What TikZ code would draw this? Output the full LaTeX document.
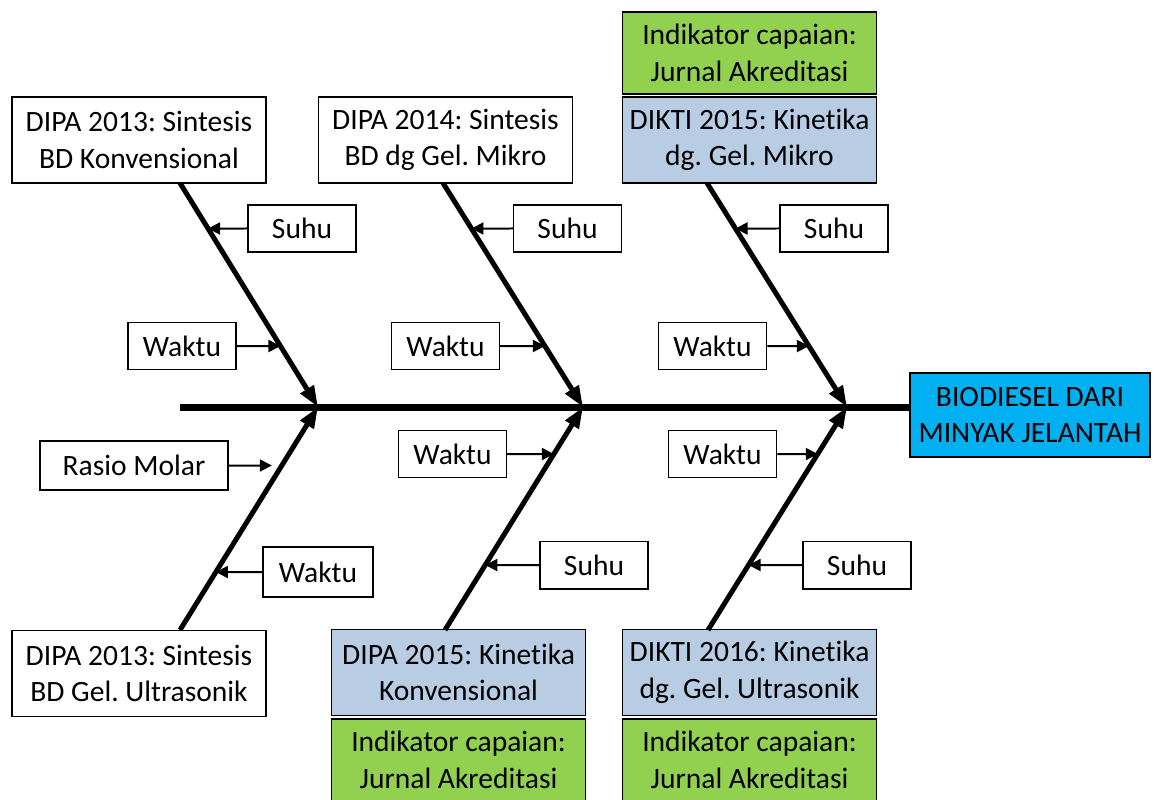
\documentclass[tikz,border=0pt]{standalone}
\usepackage{fontspec}
\setmainfont[Ligatures=NoCommon]{Carlito}
\frenchspacing
\usetikzlibrary{arrows.meta}

\definecolor{effectblue}{RGB}{0,176,240}
\definecolor{projectblue}{RGB}{184,204,228}
\definecolor{targetgreen}{RGB}{146,208,80}

\tikzset{
  projbox/.style={draw=black, line width=0.03cm, fill=white, align=center,
    inner sep=0pt, minimum width=5.08cm, minimum height=1.72cm,
    font=\fontsize{16.8}{20.8}\selectfont},
  targetbox/.style={projbox, fill=targetgreen, minimum height=1.64cm},
  causebox/.style={draw=black, line width=0.03cm, fill=white, inner sep=0pt,
    minimum width=2.16cm, minimum height=0.95cm,
    font=\fontsize{16.8}{20.8}\selectfont},
  spine/.style={line width=0.14cm},
  bone/.style={line width=0.1cm, -{Triangle[length=0.42cm,width=0.3cm]}},
  cause/.style={line width=0.04cm, -{Triangle[length=0.24cm,width=0.24cm]}}
}

\begin{document}
\begin{tikzpicture}[x=0.02cm, y=-0.02cm]
\useasboundingbox (0,0) rectangle (1158,800);

% Effect box
\node [projbox, fill=effectblue, minimum width=4.8cm, minimum height=1.68cm] (effect) at (1030,415) {BIODIESEL DARI\\MINYAK JELANTAH};

% Spine
\coordinate (tail) at (180,407);
\draw [spine] (tail) -- (tail -| effect.west);

% Project boxes, top row
\node [projbox] (projA) at (139,140) {DIPA 2013: Sintesis\\BD Konvensional};
\node [projbox] (projB) at (445.5,140) {DIPA 2014: Sintesis\\BD dg Gel. Mikro};
\node [projbox, fill=projectblue] (projC) at (749.5,140) {DIKTI 2015: Kinetika\\dg. Gel. Mikro};
\node [targetbox] (targetC) at (749.5,53) {Indikator capaian:\\Jurnal Akreditasi};

% Project boxes, bottom row
\node [projbox] (projD) at (139,673.5) {DIPA 2013: Sintesis\\BD Gel. Ultrasonik};
\node [projbox, fill=projectblue] (projE) at (458.5,672.5) {DIPA 2015: Kinetika\\Konvensional};
\node [targetbox] (targetE) at (458.5,760) {Indikator capaian:\\Jurnal Akreditasi};
\node [projbox, fill=projectblue] (projF) at (749.5,672.5) {DIKTI 2016: Kinetika\\dg. Gel. Ultrasonik};
\node [targetbox] (targetF) at (749.5,760) {Indikator capaian:\\Jurnal Akreditasi};

% Joints on the spine and feet of the bones
\coordinate (jointA) at (318,407);
\coordinate (jointB) at (583,407);
\coordinate (jointC) at (847,407);
\coordinate (footA) at (180,183);
\coordinate (footB) at (443,183);
\coordinate (footC) at (707,183);
\coordinate (footD) at (180,630);
\coordinate (footE) at (445,630);
\coordinate (footF) at (708,630);

% Drawing bones
\draw [bone] (footA) -- (jointA);
\draw [bone] (footB) -- (jointB);
\draw [bone] (footC) -- (jointC);
\draw [bone] (footD) -- (jointA);
\draw [bone] (footE) -- (jointB);
\draw [bone] (footF) -- (jointC);

% Cause boxes, top row
\node [causebox] (suhuA) at (302,228.5) {Suhu};
\node [causebox] (waktuA) at (182,346) {Waktu};
\node [causebox] (suhuB) at (567.5,228.5) {Suhu};
\node [causebox] (waktuB) at (445.5,346) {Waktu};
\node [causebox] (suhuC) at (834,228.5) {Suhu};
\node [causebox] (waktuC) at (712.5,346) {Waktu};

% Cause boxes, bottom row
\node [causebox, minimum width=3.76cm, minimum height=0.98cm] (rasioD) at (134,465.5) {Rasio Molar};
\node [causebox, minimum width=2.2cm, minimum height=1cm] (waktuD) at (318,572) {Waktu};
\node [causebox] (waktuE) at (452.5,454) {Waktu};
\node [causebox] (suhuE) at (594,565) {Suhu};
\node [causebox] (waktuF) at (722.5,454) {Waktu};
\node [causebox] (suhuF) at (857,565) {Suhu};

% Drawing cause arrows
\draw [cause] (suhuA.west) -- (intersection of footA--jointA and suhuA.west--suhuA.east);
\draw [cause] (waktuA.east) -- (intersection of footA--jointA and waktuA.west--waktuA.east);
\draw [cause] (suhuB.west) -- (intersection of footB--jointB and suhuB.west--suhuB.east);
\draw [cause] (waktuB.east) -- (intersection of footB--jointB and waktuB.west--waktuB.east);
\draw [cause] (suhuC.west) -- (intersection of footC--jointC and suhuC.west--suhuC.east);
\draw [cause] (waktuC.east) -- (intersection of footC--jointC and waktuC.west--waktuC.east);
\draw [cause, shorten >=0.2cm] (rasioD.east) -- (intersection of footD--jointA and rasioD.west--rasioD.east);
\draw [cause] (waktuD.west) -- (intersection of footD--jointA and waktuD.west--waktuD.east);
\draw [cause] (waktuE.east) -- (intersection of footE--jointB and waktuE.west--waktuE.east);
\draw [cause] (suhuE.west) -- (intersection of footE--jointB and suhuE.west--suhuE.east);
\draw [cause] (waktuF.east) -- (intersection of footF--jointC and waktuF.west--waktuF.east);
\draw [cause] (suhuF.west) -- (intersection of footF--jointC and suhuF.west--suhuF.east);
\end{tikzpicture}
\end{document}
